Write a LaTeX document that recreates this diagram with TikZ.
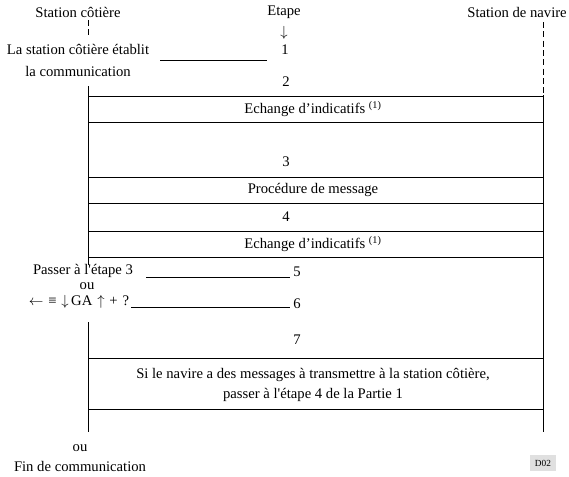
\documentclass[tikz,border=0pt]{standalone}
\usepackage{fontspec}
\setmainfont{Liberation Serif}
\usepackage{tikz}
\newcommand{\xcot}{88}
\newcommand{\xnav}{543}
\newcommand{\xmil}{313}
\newcommand{\apos}{\textquotesingle}
\tikzstyle{trait}=[line width=0.6pt]
\tikzstyle{tiret}=[line width=0.6pt, dash pattern=on 4.5pt off 2.5pt]
\tikzstyle{texte}=[inner sep=0pt, font=\fontsize{11}{13}\selectfont]
\tikzstyle{cartouche}=[fill=black!12, inner sep=3.5pt, font=\fontsize{7}{8}\selectfont]

\begin{document}
\begin{tikzpicture}[x=0.75pt, y=-0.75pt]
\useasboundingbox (0,0) rectangle (569,476);

% en-tetes
\node[texte] (cot) at (78,12) {Station côtière};
\node[texte] (eta) at (284,12) {Etape};
\node[texte, anchor=east] (nav) at (567,12) {Station de navire};
\node[texte] (fle) at (284,33) {$\downarrow$};

% lignes des stations
\draw[tiret] (\xcot,20) -- (\xcot,37);
\draw[trait] (\xcot,86) -- (\xcot,265);
\draw[trait] (\xcot,322) -- (\xcot,432);
\draw[tiret] (\xnav,22) -- (\xnav,95);
\draw[trait] (\xnav,95) -- (\xnav,432);

% etapes
\foreach \n/\x/\y in {1/285/50, 2/286/82, 3/286/162, 4/286/217, 5/297/272, 6/297/304, 7/297/340}
\node[texte] (e\n) at (\x,\y) {\n};

% cadres
\foreach \yh/\yb/\nom/\txt in {96/122/ech1/{Echange d’indicatifs \textsuperscript{(1)}},
    177/203/proc/{Procédure de message}, 231/257/ech2/{Echange d’indicatifs \textsuperscript{(1)}}}
{
\draw[trait] (\xcot,\yh) rectangle (\xnav,\yb);
\node[texte] (\nom) at (\xmil,{(\yh+\yb)/2}) {\txt};
}
\draw[trait] (\xcot,358) rectangle (\xnav,409);
\node[texte, align=center, font=\fontsize{11}{15}\selectfont] (sinav) at (\xmil,385)
  {Si le navire a des messages à transmettre à la station côtière,\\passer à l\apos étape 4 de la Partie 1};

% textes de gauche
\node[texte] (etab1) at (78,49) {La station côtière établit};
\node[texte] (etab2) at (78,71) {la communication};
\node[texte] (pas) at (83,271) {Passer à l\apos étape 3};
\node[texte] (ou1) at (87,286) {ou};
\node[texte] (sig) at (79,302) {$\leftarrow$\,\,≡\,\,$\downarrow$\,GA\,\,$\uparrow$\,\,+\,\,?};
\node[texte] (ou2) at (80,448) {ou};
\node[texte] (fin) at (80,466) {Fin de communication};
\node[cartouche] (d02) at (543,463) {D02};

% traits vers les etapes
\coordinate (d1) at (160,60);
\coordinate (f1) at (267,60);
\draw[trait] (d1) -- (f1);
\coordinate (d5) at (146,277);
\coordinate (f5) at (290,277);
\draw[trait] (d5) -- (f5);
\coordinate (f6) at (290,307);
\draw[trait] ([xshift=1.5pt]sig.east |- f6) -- (f6);

\end{tikzpicture}
\end{document}
